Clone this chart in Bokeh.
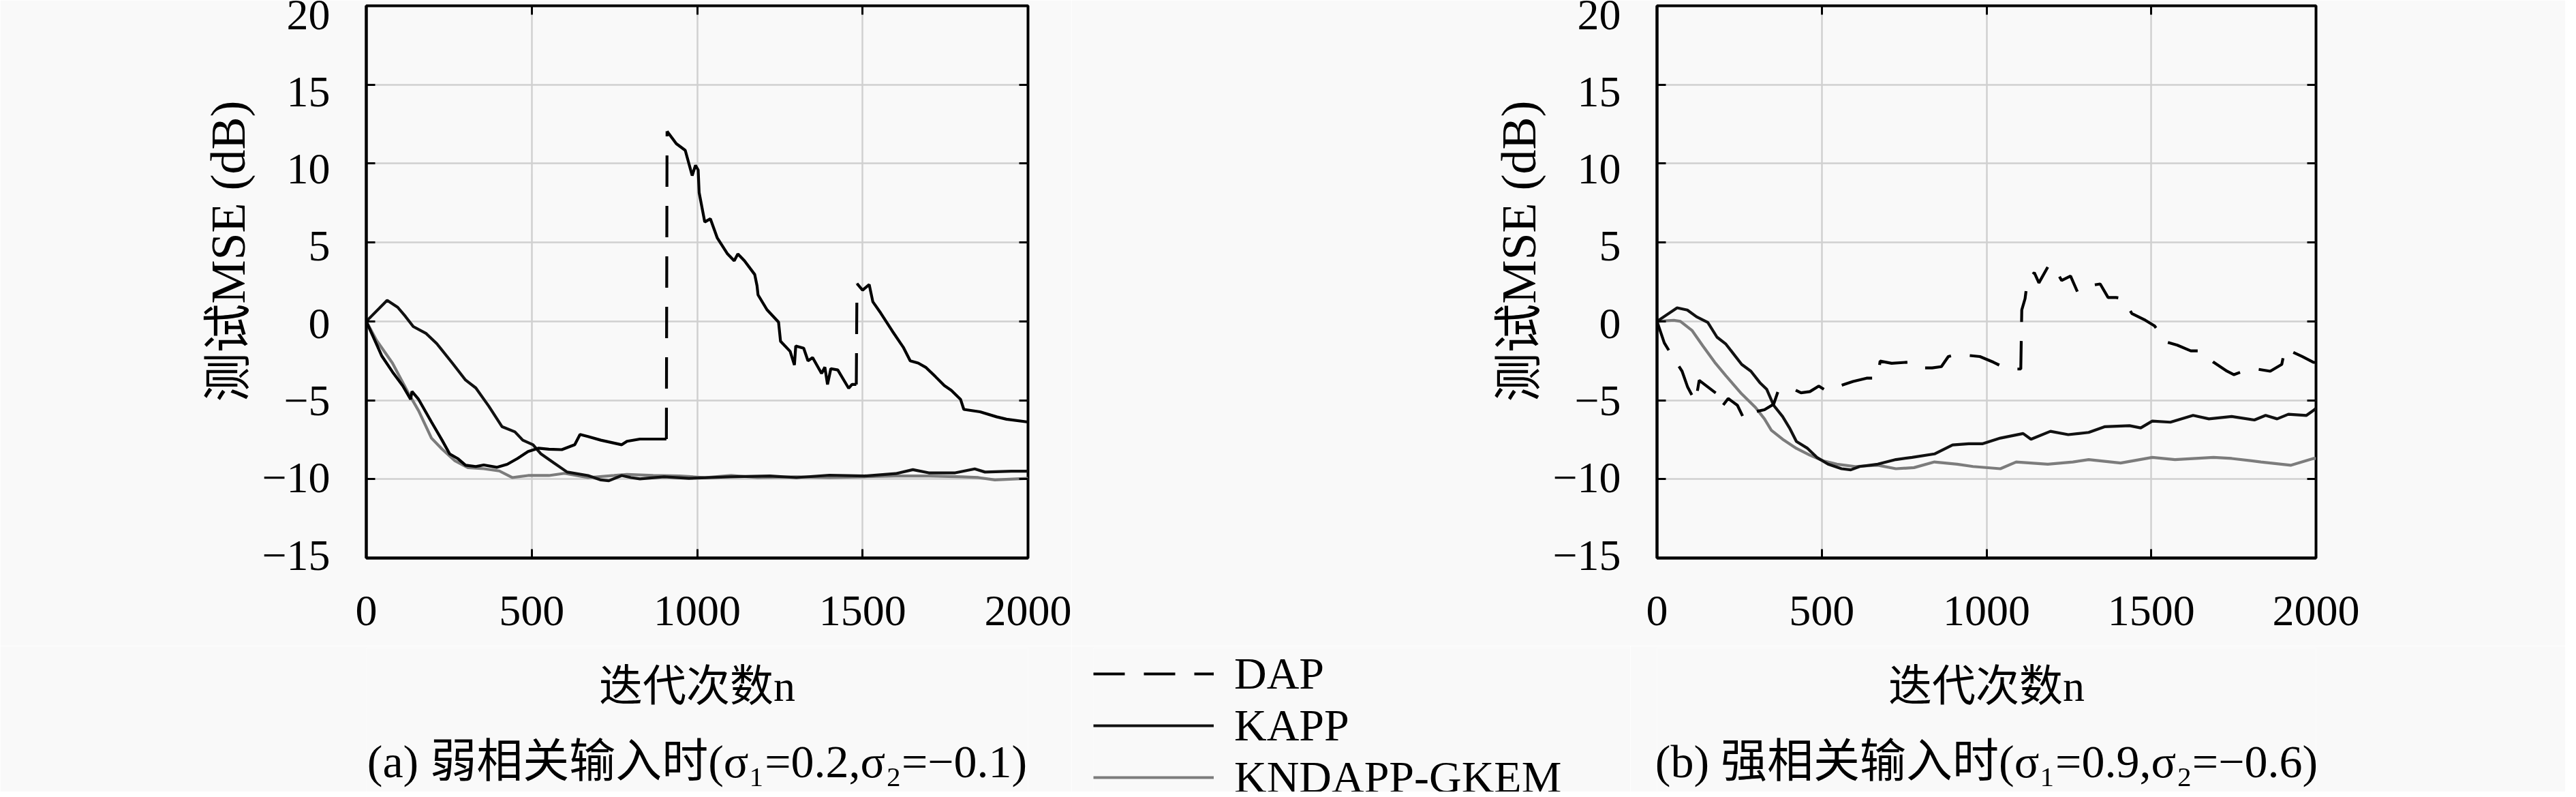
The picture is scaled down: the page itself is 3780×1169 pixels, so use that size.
from bokeh.plotting import figure
from bokeh.layouts import row, column
from bokeh.models import FixedTicker, LinearAxis, Legend, LegendItem, Range1d
from bokeh.core.properties import value
from bokeh.embed import file_html
from bokeh.resources import INLINE

# ---------------- data ----------------
X_TICKS = [0, 500, 1000, 1500, 2000]
Y_TICKS = [-15, -10, -5, 0, 5, 10, 15, 20]
Y_TICK_LABELS = {-15: "\u221215", -10: "\u221210", -5: "\u22125"}
SERIES_NAMES = ["DAP", "KAPP", "KNDAPP-GKEM"]
X_LABEL = "迭代次数n"
Y_LABEL = "测试MSE (dB)"
CAPTION_A = "(a) 弱相关输入时(σ\u2081=0.2,σ\u2082=\u22120.1)"
CAPTION_B = "(b) 强相关输入时(σ\u2081=0.9,σ\u2082=\u22120.6)"

# (a) weakly correlated input
xa_dap = [0, 47, 79, 110, 134, 138, 158, 197, 229, 252, 276, 300, 331, 355, 394, 426, 457, 489,
          520, 552, 591, 630, 646, 670, 709, 772, 788, 827, 867, 907, 909, 937, 964, 985, 995,
          1003, 1006, 1023, 1040, 1061, 1092, 1112, 1123, 1143, 1174, 1181, 1184, 1211, 1246,
          1252, 1281, 1294, 1298, 1322, 1335, 1349, 1376, 1386, 1394, 1404, 1425, 1458, 1468,
          1481, 1483, 1500, 1520, 1531, 1555, 1590, 1623, 1644, 1668, 1692, 1720, 1747, 1768,
          1796, 1806, 1855, 1905, 1935, 2000]
ya_dap = [0, -2.2, -3.2, -4.08, -4.94, -4.44, -4.94, -6.38, -7.53, -8.4, -8.69, -9.12, -9.2, -9.1,
          -9.25, -9.06, -8.69, -8.25, -8.04, -8.1, -8.13, -7.82, -7.17, -7.3, -7.53, -7.82, -7.6,
          -7.46, -7.46, -7.46, 12.05, 11.26, 10.84, 9.24, 9.89, 9.6, 8.16, 6.3, 6.5, 5.28, 4.27,
          3.84, 4.27, 3.84, 2.97, 2.25, 1.68, 0.74, -0.05, -1.26, -1.9, -2.77, -1.56, -1.7, -2.5,
          -2.3, -3.3, -2.9, -4.0, -3.0, -3.08, -4.24, -4.0, -4.0, 2.4, 1.98, 2.33, 1.24, 0.52,
          -0.62, -1.64, -2.5, -2.64, -2.93, -3.5, -4.07, -4.37, -4.94, -5.58, -5.73, -6.05, -6.2,
          -6.38]

xa_kapp = [0, 63, 95, 118, 142, 181, 213, 260, 300, 331, 370, 410, 449, 473, 504, 528, 567, 607,
           670, 709, 733, 772, 800, 827, 900, 975, 1100, 1220, 1300, 1400, 1505, 1600, 1652, 1700,
           1780, 1839, 1870, 1950, 2000]
ya_kapp = [0, 1.33, 0.89, 0.32, -0.33, -0.77, -1.41, -2.64, -3.72, -4.22, -5.37, -6.67, -7.0,
           -7.53, -7.82, -8.4, -8.97, -9.55, -9.77, -10.05, -10.1, -9.77, -9.9, -9.98, -9.85,
           -9.95, -9.85, -9.8, -9.9, -9.75, -9.8, -9.65, -9.4, -9.6, -9.6, -9.35, -9.55, -9.5,
           -9.5]

xa_knd = [0, 31, 79, 126, 158, 197, 229, 268, 307, 355, 402, 441, 489, 552, 599, 670, 749, 788,
          867, 946, 1024, 1103, 1182, 1300, 1400, 1505, 1600, 1700, 1800, 1850, 1900, 2000]
ya_knd = [0, -1.2, -2.64, -4.5, -5.66, -7.4, -8.1, -8.84, -9.27, -9.34, -9.48, -9.9, -9.77,
          -9.77, -9.63, -9.9, -9.77, -9.7, -9.77, -9.8, -9.9, -9.77, -9.9, -9.85, -9.9, -9.85,
          -9.8, -9.8, -9.85, -9.9, -10.05, -9.95]

# (b) strongly correlated input
xb_dap = [0, 22, 45, 76, 93, 117, 128, 155, 182, 195, 216, 244, 264, 278, 326, 354, 367, 409,
          437, 464, 491, 512, 553, 595, 636, 670, 677, 712, 760, 794, 835, 863, 884, 911, 946,
          980, 1021, 1063, 1104, 1107, 1117, 1124, 1145, 1159, 1190, 1207, 1228, 1255, 1276,
          1304, 1324, 1345, 1369, 1393, 1414, 1441, 1482, 1510, 1544, 1579, 1620, 1647, 1689,
          1730, 1751, 1778, 1820, 1861, 1896, 1906, 1958, 1992, 2000]
yb_dap = [0, -1.36, -2.16, -3.16, -4.17, -5.1, -3.74, -4.17, -4.6, -5.46, -4.89, -5.32, -6.18,
          -5.82, -5.6, -5.25, -4.45, -4.24, -4.53, -4.45, -4.1, -4.38, -4.1, -3.81, -3.6, -3.6,
          -2.52, -2.66, -2.59, -2.95, -2.95, -2.87, -2.23, -2.08, -2.16, -2.23, -2.59, -3.02,
          -3.02, 0.72, 1.44, 2.59, 3.09, 2.44, 3.59, 3.38, 2.59, 2.87, 1.87, 2.16, 2.3, 2.37,
          1.51, 1.51, 1.44, 0.5, 0.07, -0.29, -1.29, -1.51, -1.87, -1.87, -2.59, -3.16, -3.38,
          -3.16, -3.02, -3.16, -2.73, -1.72, -2.23, -2.59, -2.6]

xb_kapp = [0, 61, 92, 120, 154, 182, 209, 257, 285, 312, 333, 354, 381, 402, 423, 457, 485, 519,
           560, 588, 615, 670, 725, 774, 842, 897, 946, 987, 1042, 1111, 1135, 1194, 1248, 1310,
           1358, 1434, 1468, 1503, 1558, 1627, 1675, 1744, 1813, 1847, 1882, 1916, 1971, 1995,
           2000]
yb_kapp = [0, 0.86, 0.72, 0.29, -0.07, -1.0, -1.44, -2.73, -3.16, -3.88, -4.31, -5.32, -6.03,
           -6.75, -7.61, -8.05, -8.62, -9.05, -9.34, -9.41, -9.2, -9.05, -8.76, -8.62, -8.4,
           -7.83, -7.76, -7.76, -7.4, -7.11, -7.47, -6.97, -7.18, -7.04, -6.68, -6.61, -6.75,
           -6.32, -6.39, -5.96, -6.18, -6.03, -6.25, -5.96, -6.18, -5.89, -5.96, -5.6, -5.5]

xb_knd = [0, 51, 71, 106, 140, 175, 209, 257, 299, 326, 347, 381, 423, 464, 505, 546, 601, 670,
          725, 780, 842, 911, 959, 1042, 1090, 1186, 1262, 1310, 1407, 1503, 1572, 1689, 1744,
          1833, 1923, 1992, 2000]
yb_knd = [0, 0.07, 0, -0.57, -1.58, -2.59, -3.45, -4.6, -5.46, -6.18, -6.9, -7.47, -8.05, -8.48,
          -8.84, -9.05, -9.2, -9.12, -9.34, -9.27, -8.91, -9.05, -9.2, -9.34, -8.91, -9.05,
          -8.91, -8.76, -8.98, -8.62, -8.76, -8.62, -8.69, -8.91, -9.12, -8.69, -8.7]

# ---------------- style / layout ----------------
BG = "#f9f9f9"
SERIF = "'Liberation Serif', 'Noto Sans CJK SC', serif"
C_DAP = "#000000"
C_KAPP = "#111111"
C_KND = "#7c7c7c"
LW = 4.2
DASH = "46 28"
TICK_FONT = "64px"
XLABEL_FONT = "64px"
YLABEL_FONT = "72px"
CAPTION_FONT = "68px"
LEGEND_FONT = "66px"
YLABEL_PAD = "\u00a0" * 5   # the reference's y label sits a little above the frame centre
TOP_H = 947          # height of the band holding the two axes boxes
BOT_H = 214          # height of the band holding x labels, legend, captions
FRAME_TOP, FRAME_BOTTOM = 8, 818          # frame edges inside the top band (px)
LABEL_TOP, LABEL_BOTTOM = 21, 814         # where the "20" and "-15" labels sit in the reference


def label_range():
    # the reference's tick labels are spread slightly tighter than its grid lines
    y0, y1 = -15.0, 20.0
    s = (LABEL_BOTTOM - LABEL_TOP) / (y1 - y0)
    return Range1d(y0 - (FRAME_BOTTOM - LABEL_BOTTOM) / s, y1 + (LABEL_TOP - FRAME_TOP) / s)


def axes_fig(width, border_left, border_right):
    p = figure(width=width, height=TOP_H, x_range=Range1d(0, 2000), y_range=Range1d(-15, 20),
               output_backend="svg", toolbar_location=None, tools="",
               min_border_left=border_left, min_border_right=border_right,
               min_border_top=FRAME_TOP, min_border_bottom=TOP_H - FRAME_BOTTOM,
               background_fill_color=BG, border_fill_color=BG,
               outline_line_color="black", outline_line_width=4)
    p.extra_y_ranges = {"labels": label_range()}
    xa, ya = p.xaxis[0], p.yaxis[0]
    for ax, ticks in ((xa, X_TICKS), (ya, Y_TICKS)):
        ax.ticker = FixedTicker(ticks=ticks)
        ax.major_tick_in = 13
        ax.major_tick_out = 0
        ax.major_tick_line_width = 3
        ax.major_tick_line_color = "black"
        ax.minor_tick_line_color = None
        ax.axis_line_width = 4
        ax.axis_line_color = "black"
    xa.major_label_text_font = SERIF
    xa.major_label_text_font_size = TICK_FONT
    xa.major_label_text_color = "black"
    xa.major_label_standoff = 56
    # left axis of the frame: line and inward ticks only
    ya.major_label_text_font_size = "1px"
    ya.major_label_text_color = None
    ya.major_label_standoff = 0
    # labelled axis just outside it
    yl = LinearAxis(y_range_name="labels", ticker=FixedTicker(ticks=Y_TICKS),
                    major_label_overrides=Y_TICK_LABELS, axis_line_color=None,
                    major_tick_line_color=None, minor_tick_line_color=None,
                    major_label_standoff=47, major_label_text_font=SERIF,
                    major_label_text_font_size=TICK_FONT, major_label_text_color="black",
                    axis_label=YLABEL_PAD + Y_LABEL, axis_label_standoff=6,
                    axis_label_text_font=SERIF,
                    axis_label_text_font_size=YLABEL_FONT, axis_label_text_font_style="normal",
                    axis_label_text_color="black")
    p.add_layout(yl, "left")
    # MATLAB-style box: inward ticks on the top and right edges too
    for place, ticks in (("above", X_TICKS), ("right", Y_TICKS)):
        ax = LinearAxis(ticker=FixedTicker(ticks=ticks), major_tick_in=13, major_tick_out=0,
                        major_tick_line_width=3, minor_tick_line_color=None,
                        axis_line_color=None, major_label_text_font_size="1px",
                        major_label_text_color=None, major_label_standoff=0)
        p.add_layout(ax, place)
    p.xgrid.ticker = FixedTicker(ticks=X_TICKS)
    p.ygrid.ticker = FixedTicker(ticks=Y_TICKS)
    for g in (p.xgrid[0], p.ygrid[0]):
        g.grid_line_color = "#d0d0d0"
        g.grid_line_width = 2.5
    return p


def caption_fig(width, border_left, border_right, caption):
    f = figure(width=width, height=BOT_H, x_range=Range1d(0, 2000), y_range=Range1d(0, BOT_H),
               output_backend="svg", toolbar_location=None, tools="",
               min_border_left=border_left, min_border_right=border_right,
               min_border_top=0, min_border_bottom=0,
               background_fill_color=BG, border_fill_color=BG, outline_line_color=None)
    f.axis.visible = False
    f.grid.visible = False
    f.text(x=[1000, 1000], y=[157, 45], text=[X_LABEL, caption], text_align="center",
           text_baseline="middle", text_font=value(SERIF),
           text_font_size=[XLABEL_FONT, CAPTION_FONT], text_color="black")
    return f


# ---- left axes ----
p1 = axes_fig(1572, 537, 64)
seg_x, seg_y, jump_x, jump_y = [], [], [], []
cur_x, cur_y = [xa_dap[0]], [ya_dap[0]]
for i in range(1, len(xa_dap)):
    if abs(ya_dap[i] - ya_dap[i - 1]) > 5:      # the two restarts: dash pattern visible there
        seg_x.append(cur_x); seg_y.append(cur_y)
        jump_x.append([xa_dap[i - 1], xa_dap[i]]); jump_y.append([ya_dap[i - 1], ya_dap[i]])
        cur_x, cur_y = [xa_dap[i]], [ya_dap[i]]
    else:
        cur_x.append(xa_dap[i]); cur_y.append(ya_dap[i])
seg_x.append(cur_x); seg_y.append(cur_y)
p1.line(xa_knd, ya_knd, line_color=C_KND, line_width=LW)
p1.line(xa_kapp, ya_kapp, line_color=C_KAPP, line_width=LW)
p1.multi_line(seg_x, seg_y, line_color=C_DAP, line_width=LW)
p1.multi_line(jump_x, jump_y, line_color=C_DAP, line_width=LW, line_dash=DASH)

# ---- right axes ----
p2 = axes_fig(2192, 859, 366)
p2.line(xb_knd, yb_knd, line_color=C_KND, line_width=LW)
p2.line(xb_kapp, yb_kapp, line_color=C_KAPP, line_width=LW)
p2.line(xb_dap, yb_dap, line_color=C_DAP, line_width=LW, line_dash=DASH)

# ---- legend between the panels (its series sit outside this small frame) ----
lf = figure(width=820, height=BOT_H, x_range=Range1d(0, 2000), y_range=Range1d(100, 101),
            output_backend="svg", toolbar_location=None, tools="",
            min_border_left=32, min_border_right=0, min_border_top=3, min_border_bottom=0,
            background_fill_color=BG, border_fill_color=BG, outline_line_color=None)
lf.axis.visible = False
lf.grid.visible = False
g_dap = lf.line(xb_dap, yb_dap, line_color=C_DAP, line_width=LW, line_dash=DASH)
g_kapp = lf.line(xb_kapp, yb_kapp, line_color=C_KAPP, line_width=LW)
g_knd = lf.line(xb_knd, yb_knd, line_color=C_KND, line_width=LW)
legend = Legend(items=[LegendItem(label=SERIES_NAMES[0], renderers=[g_dap]),
                       LegendItem(label=SERIES_NAMES[1], renderers=[g_kapp]),
                       LegendItem(label=SERIES_NAMES[2], renderers=[g_knd])],
                location="top_left", orientation="vertical",
                glyph_width=177, glyph_height=66, label_height=66, spacing=0,
                padding=0, margin=0, label_standoff=30,
                label_text_font=SERIF, label_text_font_size=LEGEND_FONT,
                label_text_color="black",
                background_fill_alpha=0, border_line_color=None)
lf.add_layout(legend)

cap_a = caption_fig(1572, 537, 64, CAPTION_A)
cap_b = caption_fig(1372, 39, 366, CAPTION_B)

layout = column(row(p1, p2), row(cap_a, lf, cap_b))
open("out.html", "w").write(file_html(layout, INLINE))
